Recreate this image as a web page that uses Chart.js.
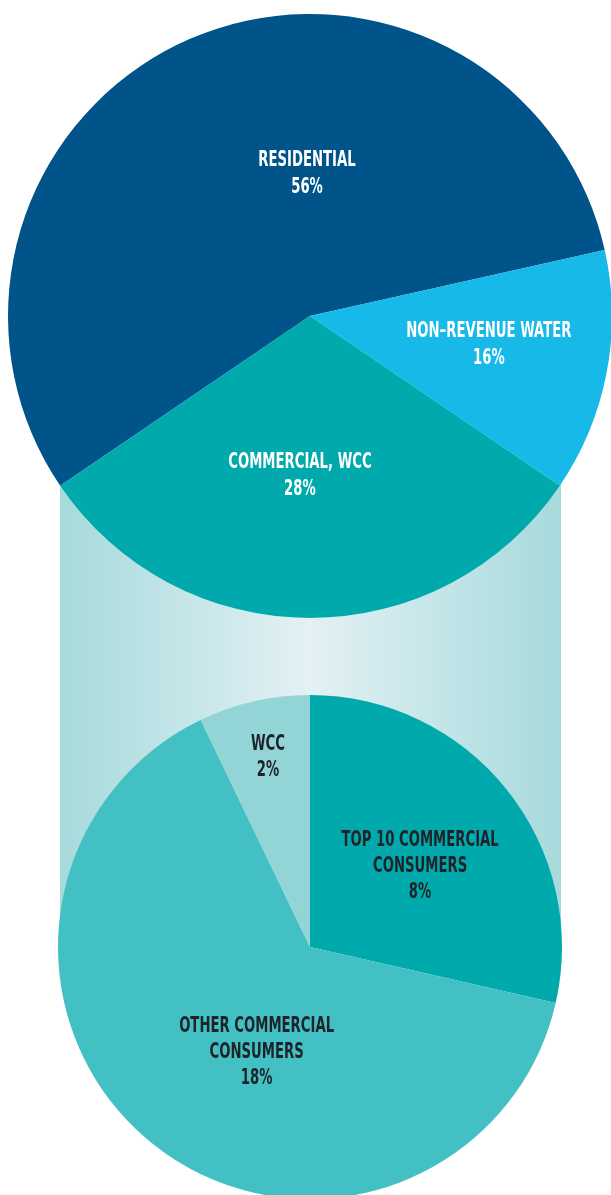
<!DOCTYPE html>
<html>
<head>
<meta charset="utf-8">
<script src="https://cdn.jsdelivr.net/npm/chart.js@4/dist/chart.umd.min.js"></script>
<style>
  html, body { margin: 0; padding: 0; background: #fff; overflow: hidden; }
  #page { position: relative; width: 611px; height: 1195px; overflow: hidden; }
  #band {
    position: absolute; left: 60px; top: 484px; width: 501px; height: 463px;
    background: linear-gradient(to right, #a6dadc 0%, #e4f1f5 50%, #a6dadc 100%);
  }
  canvas { position: absolute; }
  #topPie { left: 8px; top: 14px; }
  #bottomPie { left: 58px; top: 695px; }
</style>
</head>
<body>
<div id="page">
  <div id="band"></div>
  <canvas id="topPie" width="604" height="604"></canvas>
  <canvas id="bottomPie" width="504" height="504"></canvas>
</div>
<script>
// top pie: water use split
const topNames = [['RESIDENTIAL'], ['NON–REVENUE WATER'], ['COMMERCIAL, WCC']];
const topPercent = [56, 16, 28];
// sector sizes as drawn in the picture (the printed 16/28 don't match the drawn arcs)
const topArc = [56, 13, 31];
const topColors = ['#00548a', '#17b9e9', '#00a9ab'];

// bottom pie: commercial, WCC breakdown
const bottomNames = [['TOP 10 COMMERCIAL', 'CONSUMERS'], ['OTHER COMMERCIAL', 'CONSUMERS'], ['WCC']];
const bottomPercent = [8, 18, 2];
const bottomColors = ['#00a9ab', '#42c0c3', '#93d4d6'];

// label plugin: places text per slice at (angle from top in degrees, fraction of radius)
const sliceLabels = {
  id: 'sliceLabels',
  afterDatasetsDraw(chart, args, opts) {
    const ctx = chart.ctx;
    const arcs = chart.getDatasetMeta(0).data;
    ctx.save();
    ctx.textAlign = 'center';
    ctx.textBaseline = 'middle';
    ctx.font = opts.font;
    arcs.forEach((arc, i) => {
      const p = opts.place[i];
      const a = (p[0] - 90) * Math.PI / 180;
      const x = arc.x + Math.cos(a) * arc.outerRadius * p[1];
      const y = arc.y + Math.sin(a) * arc.outerRadius * p[1];
      const lines = opts.names[i].concat([opts.percent[i] + '%']);
      const top = y - (lines.length - 1) * opts.lineHeight / 2;
      ctx.fillStyle = opts.color;
      lines.forEach((t, j) => {
        ctx.save();
        ctx.translate(x, top + j * opts.lineHeight);
        ctx.scale(opts.squeeze, 1);
        ctx.fillText(t, 0, 0);
        ctx.restore();
      });
    });
    ctx.restore();
  }
};

const makePie = (id, values, colors, rotation, labelOpts) => {
  const ctx = document.getElementById(id).getContext('2d');
  return new Chart(ctx, {
    type: 'pie',
    data: {
      labels: labelOpts.names.map(n => n.join(' ')),
      datasets: [{
        data: values,
        backgroundColor: colors,
        borderWidth: 0
      }]
    },
    options: {
      responsive: false,
      animation: false,
      rotation: rotation,
      layout: { padding: 0 },
      plugins: {
        legend: { display: false },
        tooltip: { enabled: false },
        sliceLabels: labelOpts
      }
    },
    plugins: [sliceLabels]
  });
};

const labelFont = 'bold 21px "DejaVu Sans Condensed", "Liberation Sans Narrow", sans-serif';

makePie('topPie', topArc, topColors, -124.2, {
  names: topNames,
  percent: topPercent,
  place: [[-1.2, 0.47], [99.3, 0.60], [183.6, 0.53]],
  color: '#ffffff',
  font: labelFont,
  lineHeight: 27,
  squeeze: 0.70
});

makePie('bottomPie', bottomPercent, bottomColors, 0, {
  names: bottomNames,
  percent: bottomPercent,
  place: [[54, 0.54], [206.8, 0.47], [-12.5, 0.77]],
  color: '#1d2329',
  font: labelFont,
  lineHeight: 26,
  squeeze: 0.70
});
</script>
</body>
</html>
